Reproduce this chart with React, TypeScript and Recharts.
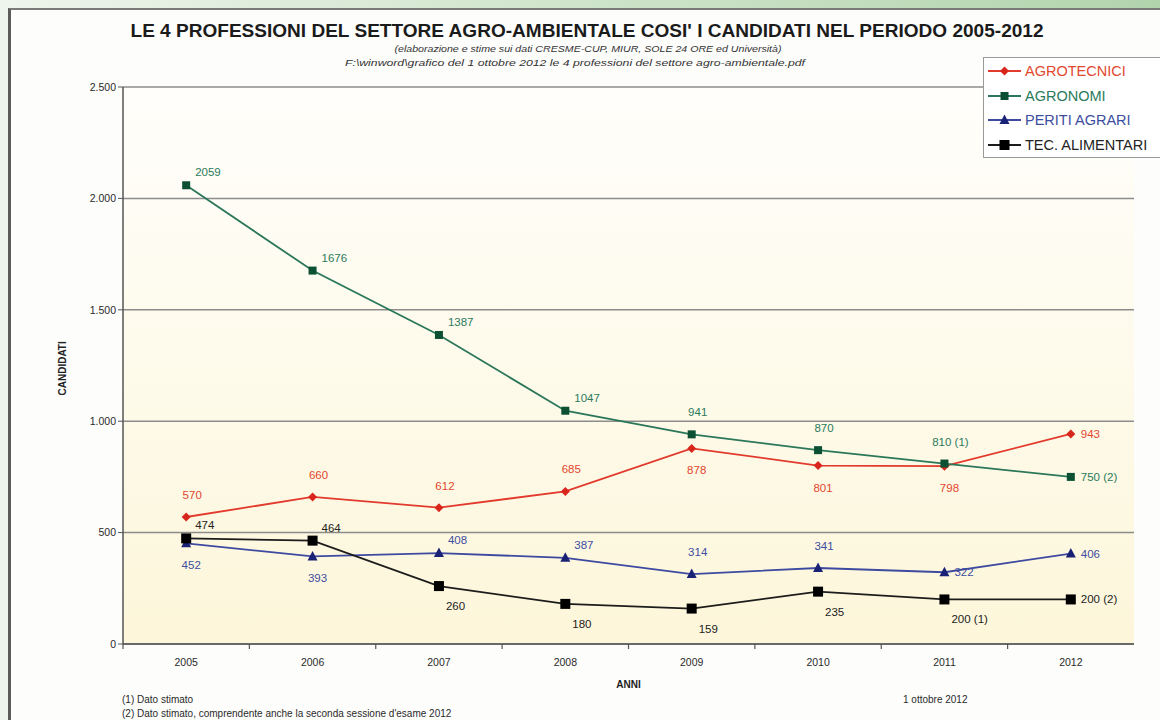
import React from 'react';
import { LineChart, Line, XAxis, YAxis, CartesianGrid, LabelList } from 'recharts';

const YEARS = ['2005', '2006', '2007', '2008', '2009', '2010', '2011', '2012'];
const AGROTECNICI = [570, 660, 612, 685, 878, 801, 798, 943];
const AGRONOMI = [2059, 1676, 1387, 1047, 941, 870, 810, 750];
const PERITI_AGRARI = [452, 393, 408, 387, 314, 341, 322, 406];
const TEC_ALIMENTARI = [474, 464, 260, 180, 159, 235, 200, 200];
// footnote markers appended to some labels
const NO_NOTES = ['', '', '', '', '', '', '', ''];
const AGRONOMI_NOTES = ['', '', '', '', '', '', ' (1)', ' (2)'];
const TEC_NOTES = ['', '', '', '', '', '', ' (1)', ' (2)'];
const Y_TICKS = [0, 500, 1000, 1500, 2000, 2500];

const data = YEARS.map((year, i) => ({
  year,
  agrotecnici: AGROTECNICI[i],
  agronomi: AGRONOMI[i],
  periti: PERITI_AGRARI[i],
  tec: TEC_ALIMENTARI[i],
}));

// where each value label sits relative to its point
const PLACE: Record<string, { dx: number; dy: number; anchor: 'start' | 'middle' }> = {
  T: { dx: 6, dy: -18, anchor: 'middle' },
  B: { dx: 5, dy: 26, anchor: 'middle' },
  R: { dx: 10, dy: 4, anchor: 'start' },
  TR: { dx: 9, dy: -9, anchor: 'start' },
  BR: { dx: 7, dy: 24, anchor: 'start' },
};

const SERIES = [
  {
    key: 'agrotecnici', name: 'AGROTECNICI', color: '#e23a2c', fill: '#d8261c', text: '#e2472f',
    marker: 'diamond', notes: NO_NOTES, place: ['T', 'T', 'T', 'T', 'B', 'B', 'B', 'R'],
  },
  {
    key: 'agronomi', name: 'AGRONOMI', color: '#2a775a', fill: '#0c5034', text: '#2b7a5c',
    marker: 'square', notes: AGRONOMI_NOTES, place: ['TR', 'TR', 'TR', 'TR', 'T', 'T', 'T', 'R'],
  },
  {
    key: 'periti', name: 'PERITI AGRARI', color: '#3d4aa0', fill: '#1a2276', text: '#3d4da0',
    marker: 'triangle', notes: NO_NOTES, place: ['B', 'B', 'TR', 'TR', 'T', 'T', 'R', 'R'],
  },
  {
    key: 'tec', name: 'TEC. ALIMENTARI', color: '#1c1c1c', fill: '#000000', text: '#222222',
    marker: 'bigsquare', notes: TEC_NOTES, place: ['TR', 'TR', 'BR', 'BR', 'BR', 'BR', 'BR', 'R'],
  },
];

const FONT = '"Liberation Sans", Arial, Helvetica, sans-serif';

const Marker = ({ shape, cx, cy, fill }: any) => {
  if (cx == null || cy == null) return null;
  if (shape === 'diamond') {
    return <polygon points={`${cx},${cy - 4.5} ${cx + 4.5},${cy} ${cx},${cy + 4.5} ${cx - 4.5},${cy}`} fill={fill} />;
  }
  if (shape === 'triangle') {
    return <polygon points={`${cx},${cy - 5.5} ${cx + 5},${cy + 4} ${cx - 5},${cy + 4}`} fill={fill} />;
  }
  const s = shape === 'bigsquare' ? 10 : 8;
  return <rect x={cx - s / 2} y={cy - s / 2} width={s} height={s} fill={fill} />;
};

const fmt = (v: number) => String(v).replace(/\B(?=(\d{3})+(?!\d))/g, '.');

const XTick = ({ x, y, payload, width, visibleTicksCount }: any) => {
  const half = width / visibleTicksCount / 2;
  return (
    <g>
      <line x1={x - half} y1={y - 8} x2={x - half} y2={y - 3} stroke="#555" strokeWidth={1.2} />
      <text x={x} y={y + 14} textAnchor="middle" fontSize={10.5} fill="#2a2a2a" fontFamily={FONT}>
        {payload.value}
      </text>
    </g>
  );
};

const LegendBox = () => (
  <div
    style={{
      position: 'absolute', left: 983, top: 57, width: 200, height: 101, background: '#fff',
      border: '1px solid #9a9a9a', boxSizing: 'border-box', paddingTop: 1, fontFamily: FONT,
    }}
  >
    {SERIES.map((s) => (
      <div key={s.key} style={{ height: 24.5, display: 'flex', alignItems: 'center' }}>
        <svg width={40} height={14} style={{ flex: 'none' }}>
          <line x1={4} y1={7} x2={37} y2={7} stroke={s.color} strokeWidth={2} />
          <Marker shape={s.marker} cx={20.5} cy={7} fill={s.fill} />
        </svg>
        <span style={{ color: s.text, fontSize: 14.5, marginLeft: 1, whiteSpace: 'nowrap' }}>{s.name}</span>
      </div>
    ))}
  </div>
);

export default function App() {
  return (
    <div
      style={{
        position: 'absolute', left: 0, top: 0, width: 1160, height: 720, overflow: 'hidden',
        background: '#eef4ee', fontFamily: FONT,
      }}
    >
      <div
        style={{
          position: 'absolute', left: 0, top: 0, width: 1160, height: 9,
          background: 'linear-gradient(90deg, #eef5ec 0%, #cfe4cb 50%, #b2d4ad 100%)',
        }}
      />
      <div
        style={{
          position: 'absolute', left: 8, top: 8, width: 1152, height: 712, background: '#fdfdfc',
          borderLeft: '3px solid #5c5c5c', borderTop: '2px solid #7a7a7a', boxSizing: 'border-box',
        }}
      />
      <div
        style={{
          position: 'absolute', left: 123, top: 87, width: 1011, height: 557,
          background: 'linear-gradient(180deg, #fffefb 0%, #fefbed 45%, #fdf6da 100%)',
        }}
      />
      <div style={{ position: 'absolute', left: 0, top: 0 }}>
        <LineChart width={1160} height={720} data={data} margin={{ top: 87, right: 26, bottom: 46, left: 63 }}>
          <CartesianGrid vertical={false} stroke="#8c8c8c" strokeWidth={1.5} yAxisId="l" />
          <XAxis
            dataKey="year"
            scale="band"
            height={30}
            tickLine={false}
            axisLine={{ stroke: '#555', strokeWidth: 1.5 }}
            tick={<XTick />}
            interval={0}
            label={{ value: 'ANNI', position: 'insideBottom', offset: -14, fontSize: 10, fontWeight: 'bold', fill: '#222' }}
          />
          <YAxis
            yAxisId="l"
            width={60}
            domain={[0, 2500]}
            ticks={Y_TICKS}
            tickFormatter={fmt}
            tickSize={5}
            tickLine={{ stroke: '#555' }}
            axisLine={{ stroke: '#555', strokeWidth: 1.5 }}
            tick={{ fontSize: 10.5, fill: '#2a2a2a', fontFamily: FONT }}
            label={{ value: 'CANDIDATI', angle: -90, position: 'insideLeft', offset: -1, dy: 30, fontSize: 10, fontWeight: 'bold', fill: '#222' }}
          />
          <YAxis
            yAxisId="r"
            orientation="right"
            width={0}
            domain={[0, 2500]}
            tick={false}
            tickLine={false}
            axisLine={{ stroke: '#888', strokeWidth: 1.5 }}
          />
          {SERIES.map((s) => (
            <Line
              key={s.key}
              yAxisId="l"
              dataKey={s.key}
              name={s.name}
              stroke={s.color}
              strokeWidth={1.8}
              isAnimationActive={false}
              dot={(p: any) => <Marker key={`${s.key}-${p.index}`} shape={s.marker} cx={p.cx} cy={p.cy} fill={s.fill} />}
              activeDot={false}
            >
              <LabelList
                dataKey={s.key}
                content={(p: any) => {
                  const pl = PLACE[s.place[p.index]];
                  return (
                    <text
                      x={p.x + pl.dx}
                      y={p.y + pl.dy}
                      textAnchor={pl.anchor}
                      fontSize={11.5}
                      fill={s.text}
                      fontFamily={FONT}
                    >
                      {`${p.value}${s.notes[p.index]}`}
                    </text>
                  );
                }}
              />
            </Line>
          ))}
        </LineChart>
      </div>
      <LegendBox />
      <svg width={1160} height={720} style={{ position: 'absolute', left: 0, top: 0, pointerEvents: 'none' }}>
        <text x={587} y={37} textAnchor="middle" fontSize={18.5} fontWeight="bold" fill="#1b1b1b"
          textLength={913} lengthAdjust="spacingAndGlyphs" fontFamily={FONT}>
          LE 4 PROFESSIONI DEL SETTORE AGRO-AMBIENTALE COSI' I CANDIDATI NEL PERIODO 2005-2012
        </text>
        <text x={588} y={52} textAnchor="middle" fontSize={9} fontStyle="italic" fill="#333"
          textLength={387} lengthAdjust="spacingAndGlyphs" fontFamily={FONT}>
          (elaborazione e stime sui dati CRESME-CUP, MIUR, SOLE 24 ORE ed Università)
        </text>
        <text x={575} y={66} textAnchor="middle" fontSize={9} fontStyle="italic" fill="#333"
          textLength={460} lengthAdjust="spacingAndGlyphs" fontFamily={FONT}>
          F:\winword\grafico del 1 ottobre 2012 le 4 professioni del settore agro-ambientale.pdf
        </text>
        <text x={122} y={703} fontSize={10} fill="#2a2a2a" fontFamily={FONT}>(1) Dato stimato</text>
        <text x={122} y={717} fontSize={10} fill="#2a2a2a" fontFamily={FONT}>
          (2) Dato stimato, comprendente anche la seconda sessione d'esame 2012
        </text>
        <text x={903} y={703} fontSize={10} fill="#2a2a2a" fontFamily={FONT}>1 ottobre 2012</text>
      </svg>
    </div>
  );
}
